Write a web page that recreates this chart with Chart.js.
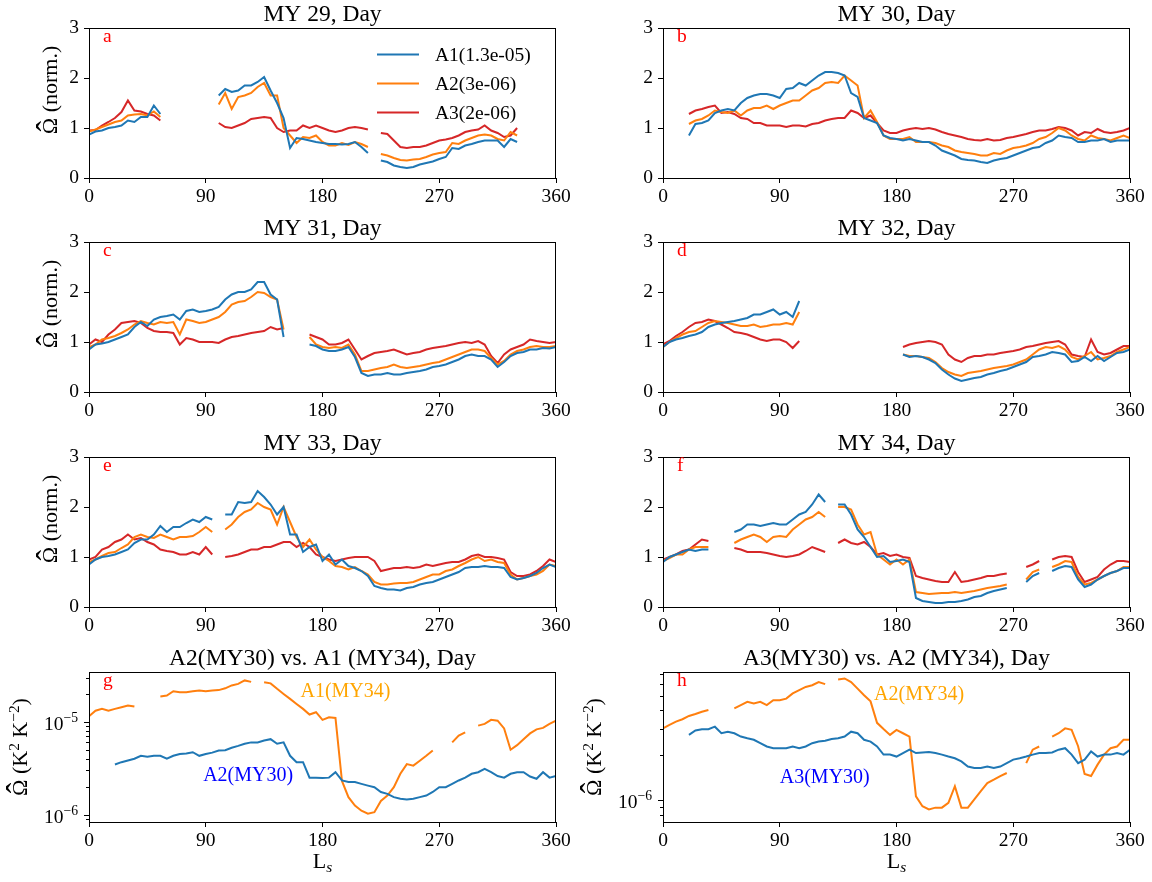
<!DOCTYPE html>
<html>
<head>
<meta charset="utf-8">
<script src="https://cdn.jsdelivr.net/npm/chart.js@4.4.1/dist/chart.umd.min.js"></script>
<style>
html,body{margin:0;padding:0;background:#ffffff;}
#fig{position:relative;width:1152px;height:882px;overflow:hidden;background:#ffffff;}
#fig canvas{position:absolute;}
</style>
</head>
<body>
<div id="fig"></div>
<script>
// ---------------- data ----------------
const LS = [0,5,10,15,20,25,30,35,40,45,50,55,60,65,70,75,80,85,90,95,100,105,110,115,120,125,130,135,140,145,150,155,160,165,170,175,180,185,190,195,200,205,210,215,220,225,230,235,240,245,250,255,260,265,270,275,280,285,290,295,300,305,310,315,320,325,330,335,340,345,350,355,360];
const X_TICKS = [0,90,180,270,360];
const Y_TICKS = [0,1,2,3];
const LOG_TICKS_G = [9e-7,1e-6,2e-6,3e-6,4e-6,5e-6,6e-6,7e-6,8e-6,9e-6,1e-5,2e-5,3e-5];
const LOG_TICKS_H = [8e-7,9e-7,1e-6,2e-6,3e-6,4e-6,5e-6,6e-6,7e-6];
const LOG_MAJOR = [1e-6,1e-5];

const MY29_A1 = [0.87,0.93,0.95,1.0,1.02,1.05,1.15,1.12,1.22,1.22,1.45,1.28,
 null,null,null,null,null,null,null,null,
 1.65,1.78,1.72,1.75,1.85,1.85,1.92,2.02,1.75,1.5,1.2,0.6,0.8,0.78,0.75,0.72,0.7,0.68,0.68,0.67,0.68,0.72,0.62,0.5,
 null,
 0.35,0.32,0.25,0.22,0.2,0.22,0.27,0.3,0.33,0.38,0.42,0.6,0.58,0.65,0.68,0.72,0.75,0.75,0.75,0.62,0.78,0.72,
 null,null,null,null,null,null];
const MY29_A2 = [0.93,0.97,1.02,1.07,1.12,1.15,1.25,1.27,1.28,1.25,1.33,1.22,
 null,null,null,null,null,null,null,null,
 1.47,1.7,1.38,1.62,1.65,1.7,1.82,1.9,1.65,1.65,1.0,0.85,0.7,0.82,0.8,0.85,0.72,0.65,0.65,0.7,0.66,0.72,0.68,0.62,
 null,
 0.48,0.45,0.4,0.36,0.35,0.37,0.38,0.42,0.47,0.5,0.52,0.7,0.68,0.75,0.8,0.85,0.87,0.85,0.78,0.75,0.92,0.85,
 null,null,null,null,null,null];
const MY29_A3 = [0.95,0.96,1.05,1.12,1.2,1.32,1.55,1.35,1.33,1.28,1.25,1.15,
 null,null,null,null,null,null,null,null,
 1.1,1.02,1.0,1.05,1.1,1.18,1.2,1.22,1.2,1.0,0.92,0.95,0.95,1.05,1.0,1.05,1.0,0.95,0.92,0.95,1.0,1.02,1.0,0.97,
 null,
 0.9,0.88,0.75,0.62,0.6,0.62,0.62,0.65,0.7,0.75,0.77,0.8,0.85,0.92,0.95,0.97,1.05,0.95,0.9,0.82,0.85,1.0,
 null,null,null,null,null,null];

const MY30_A1 = [null,null,null,null,
 0.85,1.08,1.1,1.15,1.3,1.35,1.38,1.35,1.5,1.6,
 1.65,1.68,1.68,1.65,1.6,1.78,1.8,1.9,1.85,1.95,
 2.05,2.12,2.12,2.1,2.05,1.7,1.62,1.2,1.15,1.1,
 0.85,0.8,0.78,0.75,0.78,0.75,0.72,0.72,0.65,0.55,
 0.5,0.45,0.38,0.36,0.35,0.32,0.3,0.35,0.38,0.4,
 0.45,0.5,0.55,0.6,0.62,0.7,0.75,0.85,0.82,0.8,
 0.72,0.72,0.75,0.75,0.78,0.72,0.75,0.75,0.75];
const MY30_A2 = [null,null,null,null,
 1.08,1.15,1.18,1.25,1.35,1.32,1.3,1.35,1.25,1.35,
 1.4,1.4,1.45,1.38,1.45,1.5,1.55,1.55,1.65,1.75,
 1.8,1.9,1.92,1.9,2.05,1.95,1.85,1.2,1.35,1.12,
 0.85,0.78,0.78,0.78,0.82,0.72,0.72,0.72,0.7,0.65,
 0.62,0.55,0.52,0.5,0.48,0.45,0.45,0.5,0.48,0.55,
 0.6,0.62,0.65,0.7,0.78,0.82,0.9,1.0,0.95,0.85,
 0.78,0.75,0.85,0.8,0.78,0.75,0.8,0.85,0.8];
const MY30_A3 = [null,null,null,null,
 1.28,1.35,1.38,1.42,1.45,1.3,1.32,1.28,1.2,1.18,
 1.1,1.1,1.05,1.05,1.05,1.02,1.05,1.05,1.03,1.08,
 1.1,1.15,1.18,1.2,1.2,1.35,1.3,1.2,1.25,1.1,
 0.95,0.9,0.9,0.95,0.98,1.0,0.98,1.0,0.97,0.92,
 0.88,0.85,0.82,0.78,0.76,0.75,0.78,0.75,0.76,0.8,
 0.82,0.85,0.88,0.92,0.95,0.95,0.98,1.02,1.0,0.95,
 0.85,0.92,0.9,0.98,0.92,0.9,0.92,0.95,1.0];

const MY31_A1 = [0.85,0.95,0.97,1.0,1.05,1.1,1.15,1.3,1.4,1.32,
 1.45,1.5,1.52,1.55,1.45,1.62,1.65,1.6,1.62,1.65,
 1.7,1.85,1.95,2.0,2.0,2.05,2.2,2.2,1.95,1.85,
 1.1,
 null,null,null,
 0.95,0.92,0.85,0.82,0.82,0.85,0.9,0.7,0.38,0.32,
 0.35,0.35,0.38,0.35,0.35,0.38,0.4,0.42,0.45,0.5,
 0.52,0.55,0.6,0.65,0.72,0.75,0.72,0.72,0.65,0.5,
 0.6,0.72,0.78,0.8,0.85,0.85,0.88,0.87,0.9];
const MY31_A2 = [0.9,0.95,1.05,1.08,1.12,1.18,1.25,1.35,1.42,1.38,
 1.35,1.4,1.38,1.4,1.15,1.45,1.42,1.38,1.4,1.45,
 1.5,1.6,1.75,1.8,1.82,1.9,2.0,1.98,1.9,1.85,
 1.25,
 null,null,null,
 1.1,0.95,0.9,0.88,0.9,0.88,0.95,0.75,0.42,0.42,
 0.45,0.48,0.5,0.55,0.5,0.48,0.5,0.52,0.55,0.58,
 0.6,0.65,0.7,0.75,0.8,0.85,0.85,0.82,0.68,0.55,
 0.62,0.75,0.82,0.85,0.9,0.92,0.9,0.9,0.92];
const MY31_A3 = [0.95,1.05,1.0,1.15,1.25,1.38,1.4,1.42,1.38,1.28,
 1.22,1.2,1.2,1.18,0.95,1.08,1.05,1.0,1.0,1.0,
 0.98,1.05,1.1,1.12,1.15,1.18,1.2,1.22,1.3,1.25,
 1.28,
 null,null,null,
 1.15,1.1,1.05,0.95,0.95,0.98,1.05,0.85,0.65,0.72,
 0.78,0.8,0.82,0.85,0.8,0.75,0.78,0.8,0.85,0.88,
 0.9,0.92,0.95,0.98,1.0,0.98,1.02,0.95,0.72,0.58,
 0.75,0.85,0.9,0.95,1.05,1.02,1.0,0.98,1.0];

const MY32_A1 = [0.9,1.0,1.05,1.08,1.12,1.15,1.2,1.3,1.35,1.38,
 1.4,1.42,1.45,1.48,1.55,1.55,1.6,1.65,1.55,1.6,
 1.5,1.82,
 null,null,null,null,null,null,null,null,null,null,null,null,null,null,null,
 0.75,0.7,0.72,0.7,0.65,0.58,0.45,0.35,0.27,0.22,
 0.25,0.28,0.3,0.35,0.38,0.42,0.45,0.5,0.55,0.6,
 0.7,0.72,0.75,0.8,0.78,0.75,0.6,0.62,0.7,0.62,
 0.72,0.62,0.7,0.78,0.8,0.85];
const MY32_A2 = [0.9,1.0,1.08,1.15,1.2,1.22,1.3,1.38,1.42,1.4,
 1.38,1.35,1.32,1.32,1.35,1.3,1.32,1.35,1.35,1.38,
 1.35,1.6,
 null,null,null,null,null,null,null,null,null,null,null,null,null,null,null,
 0.75,0.72,0.72,0.7,0.68,0.6,0.48,0.4,0.35,0.32,
 0.38,0.4,0.42,0.45,0.48,0.5,0.52,0.55,0.6,0.65,
 0.75,0.85,0.9,0.88,0.92,0.85,0.7,0.65,0.72,0.8,
 0.65,0.68,0.72,0.8,0.85,0.9];
const MY32_A3 = [0.95,1.02,1.12,1.2,1.3,1.38,1.4,1.45,1.42,1.35,
 1.28,1.2,1.18,1.15,1.1,1.05,1.02,1.05,1.05,1.0,
 0.88,1.02,
 null,null,null,null,null,null,null,null,null,null,null,null,null,null,null,
 0.9,0.95,0.98,1.0,1.02,1.0,0.95,0.75,0.65,0.6,
 0.68,0.72,0.72,0.75,0.75,0.78,0.8,0.82,0.85,0.9,
 0.92,0.95,0.98,1.0,1.02,0.95,0.75,0.72,0.7,1.05,
 0.8,0.75,0.78,0.85,0.92,0.92];

const MY33_A1 = [0.85,0.95,1.0,1.02,1.05,1.1,1.15,1.28,1.35,1.35,
 1.45,1.62,1.5,1.6,1.6,1.68,1.75,1.7,1.8,1.75,
 null,
 1.85,1.85,2.1,2.08,2.1,2.32,2.2,2.05,1.85,2.0,
 1.45,1.45,1.1,1.2,1.25,0.92,1.05,0.85,0.95,0.82,
 0.78,0.72,0.62,0.42,0.38,0.35,0.35,0.33,0.38,0.4,
 0.45,0.48,0.5,0.55,0.6,0.65,0.7,0.78,0.8,0.8,
 0.82,0.8,0.8,0.78,0.6,0.55,0.58,0.62,0.68,0.78,0.85,0.8];
const MY33_A2 = [0.9,0.95,1.02,1.08,1.1,1.18,1.25,1.4,1.45,1.4,
 1.38,1.45,1.4,1.35,1.4,1.4,1.42,1.5,1.6,1.5,
 null,
 1.55,1.65,1.8,1.9,1.95,2.08,2.0,1.95,1.65,2.0,
 1.7,1.4,1.2,1.35,1.15,1.0,0.92,0.82,0.8,0.75,
 0.8,0.72,0.65,0.5,0.45,0.45,0.47,0.48,0.48,0.5,
 0.55,0.6,0.65,0.65,0.72,0.75,0.82,0.88,0.95,1.0,
 0.92,0.95,0.9,0.88,0.65,0.55,0.58,0.62,0.65,0.72,0.85,0.82];
const MY33_A3 = [0.95,1.0,1.15,1.2,1.3,1.35,1.45,1.35,1.38,1.3,
 1.25,1.15,1.12,1.1,1.05,1.05,1.1,1.05,1.2,1.05,
 null,
 1.0,1.02,1.05,1.1,1.15,1.15,1.2,1.2,1.25,1.3,
 1.3,1.2,1.28,1.2,1.05,1.0,0.95,0.92,0.95,0.98,
 1.0,1.0,1.0,0.92,0.72,0.75,0.78,0.78,0.8,0.78,
 0.8,0.85,0.82,0.85,0.88,0.9,0.9,0.95,1.02,1.05,
 1.0,1.0,0.98,0.95,0.7,0.62,0.62,0.65,0.72,0.82,0.95,0.9];

const MY34_A1 = [0.9,1.0,1.05,1.1,1.15,1.12,1.15,1.15,
 null,null,null,
 1.5,1.55,1.65,1.65,1.62,1.65,1.68,1.65,1.65,1.75,1.85,1.9,2.05,2.25,2.1,
 null,
 2.05,2.05,1.85,1.55,1.4,1.2,1.0,1.02,0.9,0.92,0.95,0.9,0.18,0.12,0.1,0.08,0.08,0.1,0.1,0.12,0.15,0.2,0.22,0.28,0.32,0.35,0.38,
 null,null,
 0.5,0.62,0.68,
 null,
 0.72,0.78,0.82,0.8,0.55,0.4,0.45,0.55,0.62,0.68,0.72,0.78,0.78];
const MY34_A2 = [0.92,0.98,1.05,1.05,1.15,1.2,1.2,1.2,
 null,null,null,
 1.28,1.35,1.4,1.45,1.4,1.3,1.4,1.42,1.4,1.55,1.65,1.75,1.8,1.9,1.8,
 null,
 2.0,2.0,1.95,1.65,1.45,1.5,1.05,0.95,0.85,0.95,0.85,0.95,0.3,0.28,0.26,0.27,0.28,0.28,0.3,0.28,0.3,0.32,0.35,0.38,0.4,0.42,0.45,
 null,null,
 0.55,0.7,0.75,
 null,
 0.8,0.85,0.92,0.9,0.6,0.45,0.48,0.55,0.62,0.68,0.72,0.8,0.8];
const MY34_A3 = [0.95,1.0,1.05,1.12,1.15,1.25,1.35,1.32,
 null,null,null,
 1.18,1.15,1.1,1.1,1.1,1.08,1.05,1.02,1.0,1.02,1.05,1.12,1.2,1.15,1.1,
 null,
 1.28,1.35,1.28,1.25,1.3,1.2,1.05,1.08,1.02,1.05,1.0,0.98,0.62,0.58,0.55,0.52,0.5,0.5,0.7,0.5,0.52,0.55,0.58,0.62,0.62,0.65,0.67,
 null,null,
 0.8,0.85,0.92,
 null,
 0.95,1.0,1.02,1.0,0.7,0.5,0.55,0.6,0.75,0.85,0.92,0.92,0.9];

// panel g (K^2 K^-2)
const G_A1_MY34 = [1.15e-5,1.32e-5,1.38e-5,1.32e-5,1.38e-5,1.44e-5,1.5e-5,1.46e-5,
 null,null,null,
 1.88e-5,1.92e-5,2.14e-5,2.09e-5,2.09e-5,2.14e-5,2.18e-5,2.14e-5,2.18e-5,2.2e-5,2.3e-5,2.47e-5,2.57e-5,2.8e-5,2.7e-5,
 null,
 2.68e-5,2.6e-5,2.27e-5,2.0e-5,1.77e-5,1.56e-5,1.38e-5,1.2e-5,1.27e-5,1.05e-5,1.12e-5,1.1e-5,2.3e-6,1.54e-6,1.25e-6,1.1e-6,1.02e-6,1.06e-6,1.4e-6,1.6e-6,1.97e-6,2.75e-6,3.5e-6,3.37e-6,3.8e-6,4.3e-6,4.9e-6,
 null,null,
 6.0e-6,7.1e-6,7.7e-6,
 null,
 9.1e-6,9.5e-6,1.05e-5,1.03e-5,8.5e-6,5.0e-6,5.6e-6,6.5e-6,7.5e-6,8.3e-6,8.6e-6,9.5e-6,1.03e-5];
const G_A2_MY30 = [null,null,null,null,
 3.46e-6,3.67e-6,3.83e-6,4.0e-6,4.3e-6,4.2e-6,4.3e-6,4.3e-6,4.0e-6,4.3e-6,
 4.5e-6,4.55e-6,4.7e-6,4.3e-6,4.5e-6,4.65e-6,4.9e-6,4.95e-6,5.25e-6,5.5e-6,
 5.8e-6,6.0e-6,6.0e-6,6.3e-6,6.5e-6,5.8e-6,6.0e-6,4.3e-6,3.67e-6,3.67e-6,
 2.5e-6,2.5e-6,2.48e-6,2.5e-6,2.86e-6,2.33e-6,2.24e-6,2.24e-6,2.14e-6,2.05e-6,
 1.97e-6,1.75e-6,1.67e-6,1.54e-6,1.48e-6,1.45e-6,1.48e-6,1.54e-6,1.6e-6,1.75e-6,
 1.97e-6,1.97e-6,2.14e-6,2.33e-6,2.5e-6,2.75e-6,2.86e-6,3.1e-6,2.86e-6,2.6e-6,
 2.5e-6,2.75e-6,2.86e-6,2.86e-6,2.57e-6,2.43e-6,2.86e-6,2.5e-6,2.6e-6];

// panel h
const H_A2_MY34 = [3.03e-6,3.2e-6,3.36e-6,3.49e-6,3.67e-6,3.78e-6,3.92e-6,4.02e-6,
 null,null,null,
 4.13e-6,4.34e-6,4.57e-6,4.45e-6,4.57e-6,4.34e-6,4.68e-6,4.68e-6,4.8e-6,5.2e-6,5.47e-6,5.75e-6,5.9e-6,6.2e-6,6.0e-6,
 null,
 6.45e-6,6.55e-6,6.2e-6,5.6e-6,5.06e-6,4.6e-6,3.3e-6,3.0e-6,2.74e-6,2.96e-6,2.81e-6,2.67e-6,1.06e-6,9.1e-7,8.67e-7,8.9e-7,8.9e-7,9.6e-7,1.24e-6,8.9e-7,8.9e-7,1.01e-6,1.15e-6,1.3e-6,1.37e-6,1.45e-6,1.52e-6,
 null,null,
 1.77e-6,2.18e-6,2.29e-6,
 null,
 2.67e-6,2.81e-6,3.03e-6,2.96e-6,2.3e-6,1.5e-6,1.45e-6,1.73e-6,2.02e-6,2.23e-6,2.29e-6,2.54e-6,2.54e-6];
const H_A3_MY30 = [null,null,null,null,
 2.74e-6,2.93e-6,2.99e-6,2.99e-6,3.11e-6,2.81e-6,2.88e-6,2.81e-6,2.67e-6,2.6e-6,
 2.54e-6,2.41e-6,2.29e-6,2.23e-6,2.23e-6,2.23e-6,2.29e-6,2.23e-6,2.29e-6,2.41e-6,
 2.47e-6,2.5e-6,2.57e-6,2.6e-6,2.67e-6,2.88e-6,2.81e-6,2.54e-6,2.47e-6,2.29e-6,
 2.02e-6,2.02e-6,1.96e-6,2.07e-6,2.18e-6,2.07e-6,2.09e-6,2.1e-6,2.07e-6,2.02e-6,
 1.96e-6,1.91e-6,1.82e-6,1.68e-6,1.64e-6,1.64e-6,1.68e-6,1.64e-6,1.68e-6,1.77e-6,
 1.87e-6,1.91e-6,1.96e-6,2.02e-6,2.07e-6,2.07e-6,2.09e-6,2.18e-6,2.23e-6,2.02e-6,
 1.77e-6,1.87e-6,2.12e-6,1.96e-6,2.02e-6,2.02e-6,2.07e-6,2.02e-6,2.18e-6];

const LEG_A1 = 'A1(1.3e-05)', LEG_A2 = 'A2(3e-06)', LEG_A3 = 'A3(2e-06)';

// ---------------- style / layout ----------------
const FAM = '"Liberation Serif", "Times New Roman", "DejaVu Serif", serif';
const C1 = '#1f77b4', C2 = '#ff7f0e', C3 = '#d62728';
const TICK_PX = 19.5, TITLE_PX = 23.5, LBL_PX = 22, LEG_PX = 19.5;
const COL_X = [89, 663], ROW_Y = [28, 242, 457, 672];
const PW = 467, PH = 150, AX_W = 89, TOP_PAD = 40, RIGHT_PAD = 21;
const f = px => `${px}px ${FAM}`;

const PANELS = [
 {col:0,row:0,title:'MY 29, Day',letter:'a',ylab:'norm',legend:true,
  series:[[LEG_A1,MY29_A1,C1],[LEG_A2,MY29_A2,C2],[LEG_A3,MY29_A3,C3]]},
 {col:1,row:0,title:'MY 30, Day',letter:'b',
  series:[[LEG_A1,MY30_A1,C1],[LEG_A2,MY30_A2,C2],[LEG_A3,MY30_A3,C3]]},
 {col:0,row:1,title:'MY 31, Day',letter:'c',ylab:'norm',
  series:[[LEG_A1,MY31_A1,C1],[LEG_A2,MY31_A2,C2],[LEG_A3,MY31_A3,C3]]},
 {col:1,row:1,title:'MY 32, Day',letter:'d',
  series:[[LEG_A1,MY32_A1,C1],[LEG_A2,MY32_A2,C2],[LEG_A3,MY32_A3,C3]]},
 {col:0,row:2,title:'MY 33, Day',letter:'e',ylab:'norm',
  series:[[LEG_A1,MY33_A1,C1],[LEG_A2,MY33_A2,C2],[LEG_A3,MY33_A3,C3]]},
 {col:1,row:2,title:'MY 34, Day',letter:'f',
  series:[[LEG_A1,MY34_A1,C1],[LEG_A2,MY34_A2,C2],[LEG_A3,MY34_A3,C3]]},
 {col:0,row:3,title:'A2(MY30) vs. A1 (MY34), Day',letter:'g',ylab:'abs',
  log:{min:8.3e-7,max:3.45e-5,ticks:LOG_TICKS_G},
  series:[['A2(MY30)',G_A2_MY30,C1],['A1(MY34)',G_A1_MY34,C2]],
  notes:[{t:'A1(MY34)',c:'#ffa500',x:163,y:2.12e-5},{t:'A2(MY30)',c:'#0000ff',x:88,y:2.59e-6}]},
 {col:1,row:3,title:'A3(MY30) vs. A2 (MY34), Day',letter:'h',ylab:'abs',
  log:{min:7.13e-7,max:7.24e-6,ticks:LOG_TICKS_H},
  series:[['A3(MY30)',H_A3_MY30,C1],['A2(MY34)',H_A2_MY34,C2]],
  notes:[{t:'A2(MY34)',c:'#ffa500',x:162.7,y:5.07e-6},{t:'A3(MY30)',c:'#0000ff',x:90,y:1.42e-6}]}
];

// rotated y-label: "Ω" with a hat, followed by the rest (parts may be superscripts)
function drawYLabel(ctx, rest, cx, cy) {
  ctx.save();
  ctx.translate(cx, cy);
  ctx.rotate(-Math.PI/2);
  ctx.textAlign = 'left'; ctx.textBaseline = 'alphabetic'; ctx.fillStyle = '#000';
  ctx.font = f(LBL_PX);
  const om = ctx.measureText('\u03A9');
  const wO = om.width, capA = om.actualBoundingBoxAscent;
  let w = wO;
  const ws = rest.map(p => { ctx.font = f(p.sup ? LBL_PX*0.7 : LBL_PX); const m = ctx.measureText(p.t).width; w += m; return m; });
  let x = -w/2;
  const base = 7;
  ctx.font = f(LBL_PX);
  ctx.fillText('\u03A9', x, base);
  // hat
  ctx.font = f(LBL_PX*1.45);
  const hm = ctx.measureText('\u02C6');
  const hx = x + wO/2 - (hm.actualBoundingBoxRight - hm.actualBoundingBoxLeft)/2;
  const hb = base - capA - 2 - hm.actualBoundingBoxDescent;
  ctx.fillText('\u02C6', hx, hb);
  x += wO;
  rest.forEach((p,i) => {
    ctx.font = f(p.sup ? LBL_PX*0.7 : LBL_PX);
    ctx.fillText(p.t, x, p.sup ? base - 8 : base);
    x += ws[i];
  });
  ctx.restore();
}

function makeDeco(p) {
  return {
    id: 'deco' + p.letter,
    afterDraw(chart) {
      const ctx = chart.ctx, a = chart.chartArea;
      const xs = chart.scales.x, ys = chart.scales.y;
      ctx.save();
      if (p.log) {
        ctx.strokeStyle = '#000'; ctx.lineWidth = 1;
        p.log.ticks.forEach(v => {
          const y = Math.round(ys.getPixelForValue(v)) + 0.5;
          const major = LOG_MAJOR.includes(v);
          const len = major ? 5 : 3;
          ctx.beginPath(); ctx.moveTo(a.left, y); ctx.lineTo(a.left - len, y); ctx.stroke();
          if (major) {
            const exp = '\u2212' + Math.round(-Math.log10(v));
            ctx.font = f(TICK_PX*0.7); const we = ctx.measureText(exp).width;
            ctx.font = f(TICK_PX); const wb = ctx.measureText('10').width;
            const xr = a.left - 11;
            ctx.fillStyle = '#000'; ctx.textAlign = 'left'; ctx.textBaseline = 'alphabetic';
            ctx.fillText('10', xr - we - wb, y + 7.5);
            ctx.font = f(TICK_PX*0.7);
            ctx.fillText(exp, xr - we, y - 0.5);
          }
        });
      }
      // frame
      ctx.strokeStyle = '#000'; ctx.lineWidth = 1;
      ctx.strokeRect(Math.round(a.left) + 0.5, Math.round(a.top) + 0.5, Math.round(a.right - a.left) - 1, Math.round(a.bottom - a.top));
      // title
      ctx.fillStyle = '#000'; ctx.font = f(TITLE_PX);
      ctx.textAlign = 'center'; ctx.textBaseline = 'alphabetic';
      ctx.fillText(p.title, (a.left + a.right)/2, a.top - 7);
      // panel letter
      ctx.fillStyle = '#ff0000'; ctx.font = f(TICK_PX); ctx.textAlign = 'left';
      ctx.fillText(p.letter, a.left + 14, a.top + 14);
      // y label
      if (p.ylab === 'norm') {
        drawYLabel(ctx, [{t:' (norm.)'}], a.left - 39, (a.top + a.bottom)/2 - 13);
      } else if (p.ylab === 'abs') {
        drawYLabel(ctx, [{t:' (K'},{t:'2',sup:true},{t:' K'},{t:'\u22122',sup:true},{t:')'}], a.left - 69.5, (a.top + a.bottom)/2);
      }
      // x label on bottom row
      if (p.row === 3) {
        ctx.fillStyle = '#000'; ctx.textBaseline = 'alphabetic'; ctx.textAlign = 'left';
        ctx.font = f(LBL_PX); const wL = ctx.measureText('L').width;
        ctx.font = 'italic ' + f(LBL_PX*0.7); const wS = ctx.measureText('s').width;
        const x0 = (a.left + a.right)/2 - (wL + wS)/2;
        ctx.font = f(LBL_PX); ctx.fillText('L', x0, a.bottom + 46);
        ctx.font = 'italic ' + f(LBL_PX*0.7); ctx.fillText('s', x0 + wL, a.bottom + 50);
      }
      // annotations
      (p.notes || []).forEach(n => {
        ctx.fillStyle = n.c; ctx.font = f(LEG_PX + 0.5);
        ctx.textAlign = 'left'; ctx.textBaseline = 'middle';
        ctx.fillText(n.t, xs.getPixelForValue(n.x), ys.getPixelForValue(n.y));
      });
      // legend
      if (p.legend) {
        chart.data.datasets.forEach((ds, i) => {
          const y = Math.round(a.top + 26 + i*29) + 0.5;
          ctx.strokeStyle = ds.borderColor; ctx.lineWidth = 2;
          ctx.beginPath(); ctx.moveTo(a.left + 288, y); ctx.lineTo(a.left + 330, y); ctx.stroke();
          ctx.fillStyle = '#000'; ctx.font = f(LEG_PX);
          ctx.textAlign = 'left'; ctx.textBaseline = 'middle';
          ctx.fillText(ds.label, a.left + 346, y + 1);
        });
      }
      ctx.restore();
    }
  };
}

const fig = document.getElementById('fig');
PANELS.forEach(p => {
  const bottomRoom = p.row === 3 ? 60 : 45;
  const cw = AX_W + PW + RIGHT_PAD, ch = TOP_PAD + PH + bottomRoom;
  const cv = document.createElement('canvas');
  cv.width = cw; cv.height = ch;
  cv.style.left = (COL_X[p.col] - AX_W) + 'px';
  cv.style.top = (ROW_Y[p.row] - TOP_PAD) + 'px';
  cv.style.width = cw + 'px'; cv.style.height = ch + 'px';
  fig.appendChild(cv);

  const yScale = p.log ? {
    type: 'logarithmic', min: p.log.min, max: p.log.max,
    afterBuildTicks: s => { s.ticks = p.log.ticks.map(v => ({value: v})); },
    ticks: { display: false },
    grid: { display: false }, border: { display: false },
    afterFit: s => { s.width = AX_W; }
  } : {
    type: 'linear', min: 0, max: 3,
    afterBuildTicks: s => { s.ticks = Y_TICKS.map(v => ({value: v})); },
    ticks: { color: '#000', font: {family: FAM, size: TICK_PX}, padding: 5, autoSkip: false },
    grid: { drawOnChartArea: false, drawTicks: true, tickLength: 5, color: '#000', lineWidth: 1 },
    border: { display: false },
    afterFit: s => { s.width = AX_W; }
  };

  new Chart(cv, {
    type: 'line',
    data: {
      datasets: p.series.map(([label, vals, color]) => ({
        label,
        data: LS.map((x, i) => ({x, y: vals[i]})),
        borderColor: color, backgroundColor: color,
        borderWidth: 2, pointRadius: 0, tension: 0, fill: false, spanGaps: false
      }))
    },
    options: {
      responsive: false, animation: false, devicePixelRatio: 1, events: [],
      layout: { padding: { left: 0, top: TOP_PAD, right: RIGHT_PAD, bottom: 0 } },
      scales: {
        x: {
          type: 'linear', min: 0, max: 360,
          afterBuildTicks: s => { s.ticks = X_TICKS.map(v => ({value: v})); },
          ticks: { color: '#000', font: {family: FAM, size: TICK_PX}, padding: 2, autoSkip: false, maxRotation: 0 },
          grid: { drawOnChartArea: false, drawTicks: true, tickLength: 5, color: '#000', lineWidth: 1 },
          border: { display: false },
          afterFit: s => { s.height = bottomRoom; }
        },
        y: yScale
      },
      plugins: { legend: { display: false }, title: { display: false }, tooltip: { enabled: false } }
    },
    plugins: [makeDeco(p)]
  });
});
</script>
</body>
</html>
